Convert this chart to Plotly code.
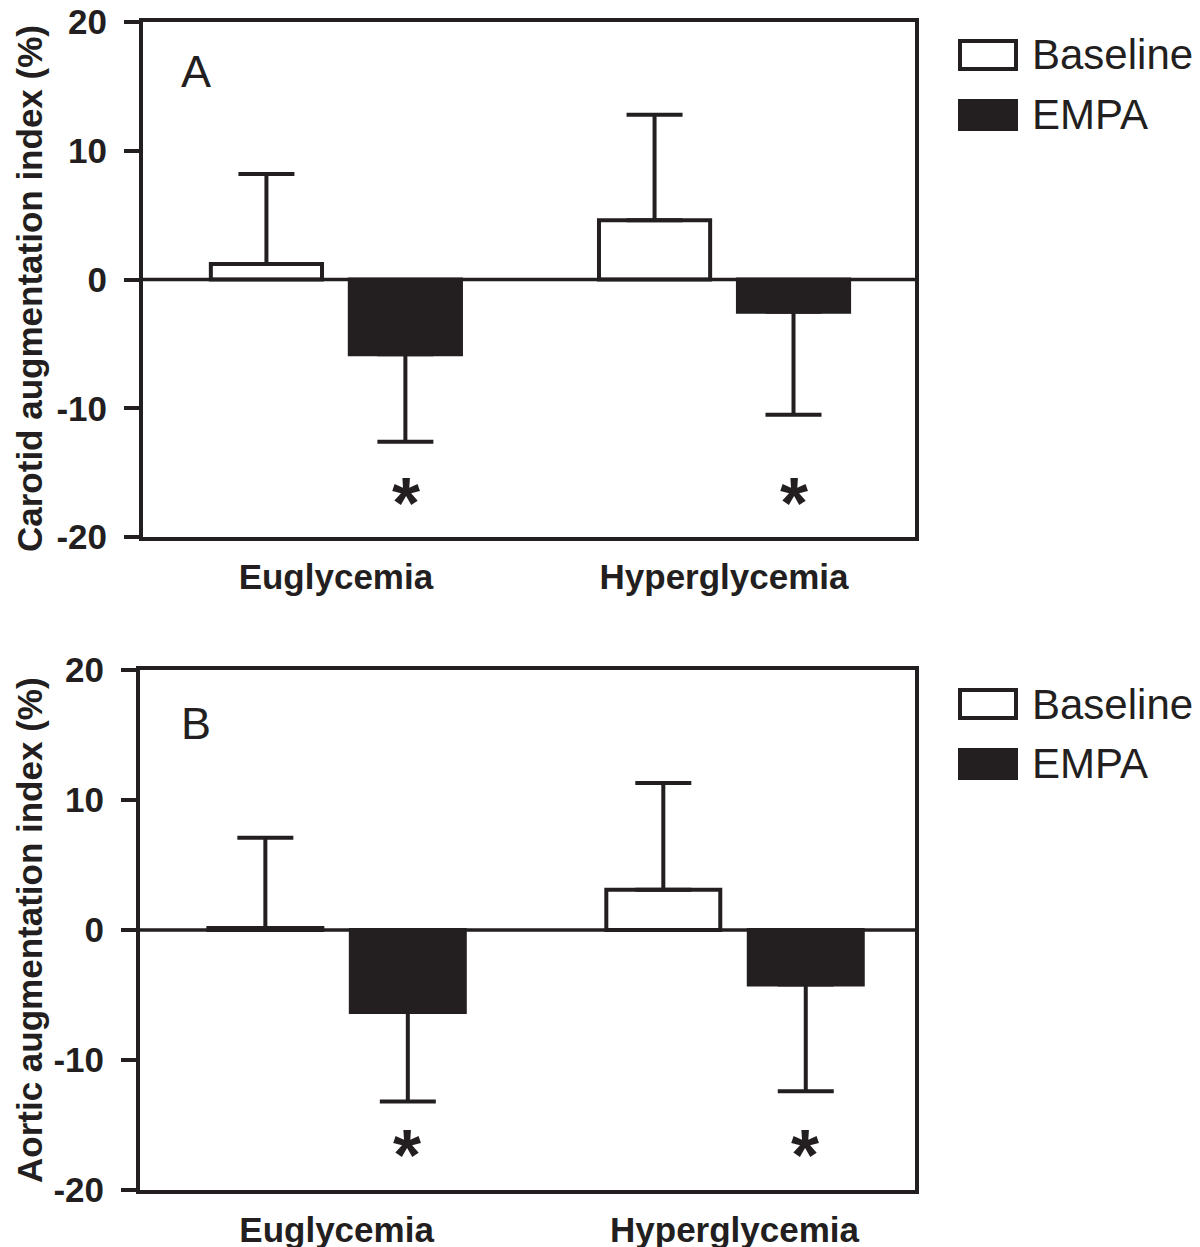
import plotly.graph_objects as go

# ---------------- data ----------------
conditions = ["Euglycemia", "Hyperglycemia"]

carotid_baseline = [1.2, 4.6]
carotid_baseline_sd = [7.0, 8.2]
carotid_empa = [-5.8, -2.5]
carotid_empa_sd = [6.8, 8.0]

aortic_baseline = [0.15, 3.1]
aortic_baseline_sd = [6.95, 8.2]
aortic_empa = [-6.3, -4.2]
aortic_empa_sd = [6.9, 8.2]

sig_level = [-16.4, -16.4]   # asterisk level under EMPA bars
y_ticks = [-20, -10, 0, 10, 20]
y_ticklabels = ["-20", "-10", "0", "10", "20"]

# ---------------- geometry helpers (page pixel targets) ----------------
OFF = 8                      # page offset of the figure div
W, H = 1200, 1247
# plot area in page pixels
LEFT, RIGHT, TOP, BOTTOM = 140, 915, 22, 1190
ML, MR, MT, MB = LEFT - OFF, W - (RIGHT - OFF), TOP - OFF, H - (BOTTOM - OFF)
PW, PH = W - ML - MR, H - MT - MB

def px(x):
    return (x - LEFT) / PW

def py(y):
    return (BOTTOM - y) / PH

INK = "#231f20"
FONT = "Liberation Sans, Arial, Helvetica, sans-serif"

fig = go.Figure()

panels = [
    ("x", "y", carotid_baseline, carotid_baseline_sd, carotid_empa, carotid_empa_sd),
    ("x2", "y2", aortic_baseline, aortic_baseline_sd, aortic_empa, aortic_empa_sd),
]
slot_shift = {"x": 0.3595 / 2 * 388, "x2": 0.354 / 2 * 398}

for xa, ya, base, base_sd, empa, empa_sd in panels:
    fig.add_trace(go.Bar(
        x=conditions, y=base, xaxis=xa, yaxis=ya, name="Baseline", showlegend=False,
        marker=dict(color="white", line=dict(color=INK, width=4)),
        error_y=dict(type="data", symmetric=False, array=base_sd,
                     arrayminus=[0] * len(base), color=INK, thickness=4, width=28),
    ))
    fig.add_trace(go.Bar(
        x=conditions, y=empa, xaxis=xa, yaxis=ya, name="EMPA", showlegend=False,
        marker=dict(color=INK, line=dict(color=INK, width=4)),
        error_y=dict(type="data", symmetric=False, array=[0] * len(empa),
                     arrayminus=empa_sd, color=INK, thickness=4, width=28),
    ))
    for c, lvl in zip(conditions, sig_level):
        fig.add_annotation(
            x=c, y=lvl, xref=xa, yref=ya, text="*", showarrow=False,
            xshift=slot_shift[xa], yshift=-12, yanchor="middle",
            font=dict(family=FONT, size=72, color=INK, weight="bold"),
        )

axis_common = dict(
    showline=True, mirror=True, linecolor=INK, linewidth=4,
    showgrid=False, zeroline=False, automargin=False,
)
ytick_common = dict(
    range=[-20, 20], tickvals=y_ticks, ticktext=y_ticklabels,
    ticks="outside", ticklen=15, tickwidth=4, tickcolor=INK,
    tickfont=dict(size=35, weight="bold", color=INK), ticklabelstandoff=10,
    ticklabeloverflow="allow",
)
xtick_common = dict(ticks="", tickfont=dict(size=35, weight="bold", color=INK),
                    ticklabelstandoff=6, ticklabeloverflow="allow")

fig.update_layout(
    width=W, height=H,
    margin=dict(l=ML, r=MR, t=MT, b=MB, autoexpand=False),
    paper_bgcolor="white", plot_bgcolor="white",
    barmode="group", bargap=0.284, bargroupgap=0.2,
    font=dict(family=FONT, color=INK),
    xaxis=dict(domain=[px(143), 1], anchor="y", range=[-0.497, 1.492],
               **xtick_common, **axis_common),
    yaxis=dict(domain=[py(537), 1], anchor="x", **ytick_common, **axis_common),
    xaxis2=dict(domain=[0, 1], anchor="y2", range=[-0.494, 1.4535],
                **xtick_common, **axis_common),
    yaxis2=dict(domain=[0, py(670)], anchor="x2", **ytick_common, **axis_common),
)

# zero lines
for xa, ya in [("x", "y"), ("x2", "y2")]:
    fig.add_shape(type="line", xref=f"{xa} domain", yref=ya, x0=0, x1=1, y0=0, y1=0,
                  line=dict(color=INK, width=3.5), layer="above")

# y-axis titles
titles = [("Carotid augmentation index (%)", 289),
          ("Aortic augmentation index (%)", 930)]
for t, yc in titles:
    fig.add_annotation(text=t, xref="paper", yref="paper", x=px(29), y=py(yc),
                       xanchor="center", yanchor="middle", textangle=-90, showarrow=False,
                       borderpad=0,
                       font=dict(family=FONT, size=35, weight="bold", color=INK))

# panel letters
for letter, yc in [("A", 71.5), ("B", 723)]:
    fig.add_annotation(text=letter, xref="paper", yref="paper", x=px(179), y=py(yc),
                       xanchor="left", yanchor="middle", showarrow=False,
                       font=dict(family=FONT, size=45, color=INK))

# legends
for top in [39, 688]:
    for i, (name, fill) in enumerate([("Baseline", "white"), ("EMPA", INK)]):
        y0 = top + i * 60
        fig.add_shape(type="rect", xref="paper", yref="paper",
                      x0=px(960), x1=px(1016), y0=py(y0 + 30), y1=py(y0 + 2),
                      line=dict(color=INK, width=4), fillcolor=fill)
        fig.add_annotation(text=name, xref="paper", yref="paper", x=px(1030), y=py(y0 + 16),
                           xanchor="left", yanchor="middle", showarrow=False,
                           font=dict(family=FONT, size=42, color=INK))

fig.write_html("out.html")
